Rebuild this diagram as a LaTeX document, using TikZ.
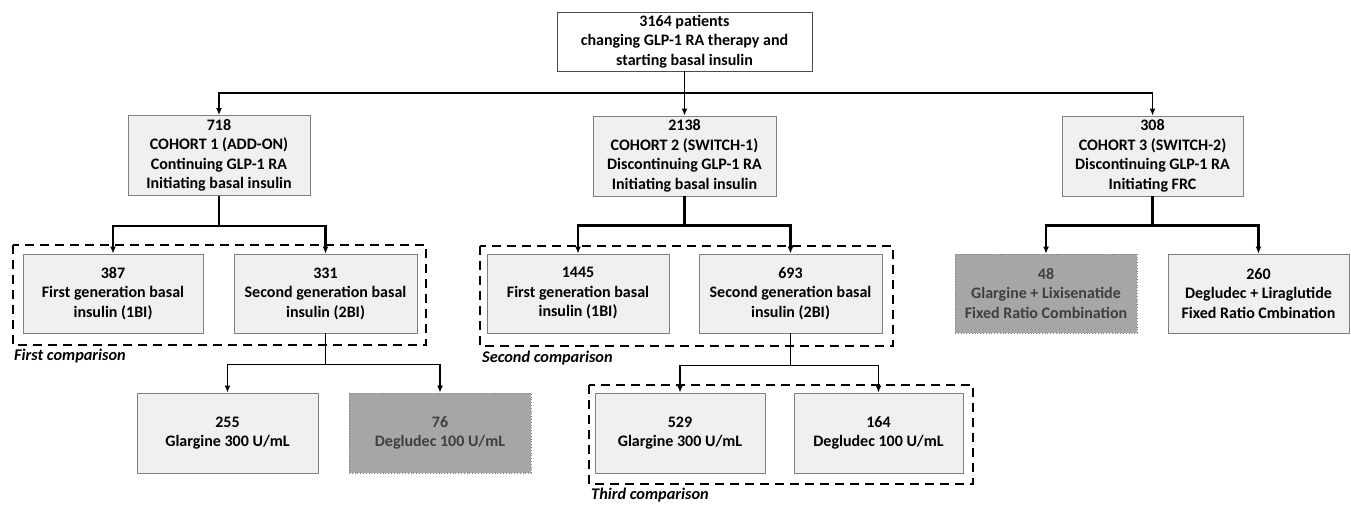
\documentclass[tikz,border=0pt]{standalone}
\usepackage{fontspec}
\setmainfont{Carlito}
\usetikzlibrary{arrows.meta}
\definecolor{boxfill}{HTML}{F0F0F0}
\definecolor{boxline}{HTML}{7F7F7F}
\definecolor{darkfill}{HTML}{A6A6A6}
\definecolor{darktext}{HTML}{3F3F3F}
\tikzset{
  base/.style={rectangle, align=center, inner sep=0pt, font=\fontsize{16}{19.5}\selectfont\bfseries},
  topbox/.style={base, draw=black!70, line width=0.8pt, fill=white, minimum width=255pt, minimum height=59pt},
  lbox/.style={base, draw=boxline, line width=0.9pt, fill=boxfill, minimum height=80pt},
  dbox/.style={base, draw=boxline, dotted, line width=0.8pt, fill=darkfill, text=darktext, minimum height=80pt},
  grp/.style={draw=black, dashed, dash pattern=on 9pt off 6pt, line width=1.8pt},
  conn/.style={draw=black, line width=1.6pt, -{Latex[length=7pt,width=6pt]}},
  connb/.style={draw=black, line width=2.1pt, -{Latex[length=7pt,width=6pt]}},
  lab/.style={anchor=west, inner sep=0pt, font=\fontsize{16.3}{19}\selectfont\bfseries\itshape}
}
\begin{document}
\begin{tikzpicture}[x=1pt,y=-1pt]
\useasboundingbox (0,0) rectangle (1351,504);
% dashed groups
\draw[grp] (13,245) rectangle (426,345);
\draw[grp] (480,246) rectangle (893,346);
\draw[grp] (589,385) rectangle (973,484);
% nodes
\node[topbox] (top) at (684.5,41.5) {3164 patients\\changing GLP-1 RA therapy and\\starting basal insulin};
\node[lbox, minimum width=182pt] (c1) at (219,155.5) {718\\COHORT 1 (ADD-ON)\\Continuing GLP-1 RA\\Initiating basal insulin};
\node[lbox, minimum width=183pt] (c2) at (684.5,156) {2138\\COHORT 2 (SWITCH-1)\\Discontinuing GLP-1 RA\\Initiating basal insulin};
\node[lbox, minimum width=181pt] (c3) at (1152.5,156) {308\\COHORT 3 (SWITCH-2)\\Discontinuing GLP-1 RA\\Initiating FRC};
\node[lbox, minimum width=180pt, minimum height=79pt] (a1) at (113,293.5) {387\\First generation basal\\insulin (1BI)};
\node[lbox, minimum width=183pt, minimum height=79pt] (a2) at (325.5,293.5) {331\\Second generation basal\\insulin (2BI)};
\node[lbox, minimum width=182pt, minimum height=79pt] (b1) at (578,293.5) {1445\\First generation basal\\insulin (1BI)};
\node[lbox, minimum width=183pt, minimum height=79pt] (b2) at (790.5,293.5) {693\\Second generation basal\\insulin (2BI)};
\node[dbox, minimum width=182pt, minimum height=79pt] (d1) at (1046,293.5) {48\\Glargine + Lixisenatide\\Fixed Ratio Combination};
\node[lbox, minimum width=181pt, minimum height=79pt] (d2) at (1258.5,293.5) {260\\Degludec + Liraglutide\\Fixed Ratio Cmbination};
\node[lbox, minimum width=181pt] (e1) at (227.5,433) {255\\Glargine 300 U/mL};
\node[dbox, minimum width=182pt] (e2) at (440,433) {76\\Degludec 100 U/mL};
\node[lbox, minimum width=170pt] (f1) at (680,433) {529\\Glargine 300 U/mL};
\node[lbox, minimum width=169pt] (f2) at (878.5,433) {164\\Degludec 100 U/mL};
% labels
\node[lab] (l1) at (14,356) {First comparison};
\node[lab] (l2) at (482,358) {Second comparison};
\node[lab] (l3) at (591,495) {Third comparison};
% connectors
\coordinate (h) at (684.5,93);
\draw[conn] (top.south) -- (c2.north);
\draw[conn] (h) -| (c1.north);
\draw[conn] (h) -| (c3.north);
\draw[connb] (c1.south) -- ++(0,30) -| (a1.north);
\draw[connb] (c1.south) -- ++(0,30) -| (a2.north);
\draw[connb] (c2.south) -- ++(0,29) -| (b1.north);
\draw[connb] (c2.south) -- ++(0,29) -| (b2.north);
\draw[connb, line width=2.6pt] (c3.south) -- ++(0,29) -| (d1.north);
\draw[connb, line width=2.6pt] (c3.south) -- ++(0,29) -| (d2.north);
\draw[conn] (a2.south) -- ++(0,31) -| (e1.north);
\draw[conn] (a2.south) -- ++(0,31) -| (e2.north);
\draw[conn] (b2.south) -- ++(0,32) -| (f1.north);
\draw[conn] (b2.south) -- ++(0,32) -| (f2.north);
\end{tikzpicture}
\end{document}
